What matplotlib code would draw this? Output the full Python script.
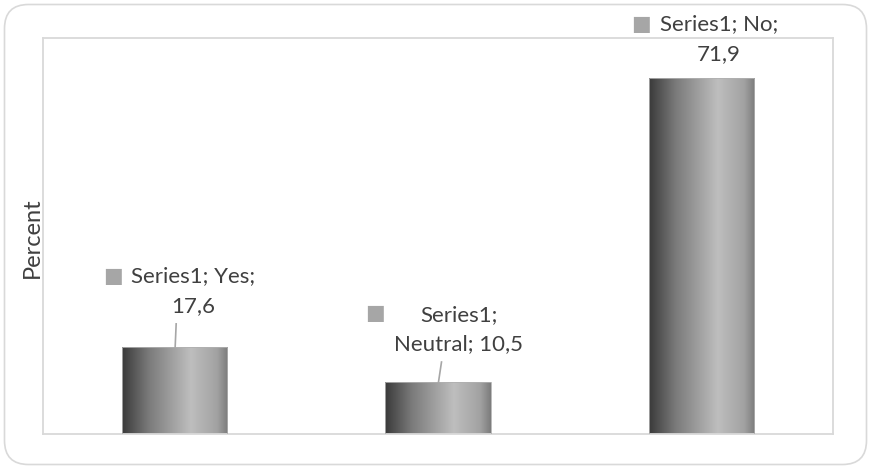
import numpy as np
import matplotlib.pyplot as plt
from matplotlib.patches import FancyBboxPatch, Rectangle
from matplotlib.colors import LinearSegmentedColormap

# Data
categories = ['Yes', 'Neutral', 'No']
values = [17.6, 10.5, 71.9]
series_name = 'Series1'
label_lines = [['Series1; Yes;', '17,6'], ['Series1;', 'Neutral; 10,5'], ['Series1; No;', '71,9']]

W, H = 870, 468
fig = plt.figure(figsize=(W / 100, H / 100), dpi=100)
plt.rcParams['font.family'] = ['Lato', 'DejaVu Sans']

# outer rounded frame, drawn in a background axes with pixel units
bg = fig.add_axes([0, 0, 1, 1], zorder=-5)
bg.set_xlim(0, W)
bg.set_ylim(0, H)
bg.axis('off')
bg.add_patch(FancyBboxPatch((4.5, 3.5), 862, 460, boxstyle='round,pad=0,rounding_size=24',
                            facecolor='white', edgecolor='#d9d9d9', lw=1.2))

ax = fig.add_axes([43 / W, (H - 434) / H, 790 / W, 396 / H])
ax.set_xticks([])
ax.set_yticks([])
for s in ax.spines.values():
    s.set_color('#d9d9d9')
    s.set_linewidth(1.3)
ax.set_facecolor('none')
tc = '#404040'
ax.set_ylabel('Percent', fontsize=17, color=tc)
ax.yaxis.set_label_coords(0.0, 0.495)

cmap = LinearSegmentedColormap.from_list('bar', [(0, '#3a3a3a'), (0.25, '#7a7a7a'),
                                                 (0.65, '#bebebe'), (0.9, '#a2a2a2'),
                                                 (1, '#7c7c7c')])
grad = np.linspace(0, 1, 256).reshape(1, -1)
bw = 0.4
bars = ax.bar(range(len(values)), values, width=bw, color='none', edgecolor='#b0b0b0', lw=0.6, zorder=3)
for b in bars:
    x0, y0, w, h = b.get_x(), b.get_y(), b.get_width(), b.get_height()
    im = ax.imshow(grad, cmap=cmap, aspect='auto', extent=[x0, x0 + w, y0, y0 + h], zorder=2)
    im.set_clip_path(Rectangle((x0, y0), w, h, transform=ax.transData))
ax.set_xlim(-0.5, 2.5)
ax.set_ylim(0, 80)

fs = 16
# label layout in pixels relative to bar top: text x, line1 y, line2 y, square x, square y
lab_off = [(18.5, 71, 41, -61.5, 71), (20.5, 67, 38, -62.5, 69), (17.5, 54, 24, -60.5, 54)]
for i, (v, lines) in enumerate(zip(values, label_lines)):
    tx, y1, y2, sx, sy = lab_off[i]
    ax.annotate(lines[0], (i, v), xytext=(tx, y1), textcoords='offset pixels',
                ha='center', va='center', fontsize=fs, color=tc, annotation_clip=False)
    ax.annotate(lines[1], (i, v), xytext=(tx, y2), textcoords='offset pixels',
                ha='center', va='center', fontsize=fs, color=tc, annotation_clip=False)
    ax.annotate('\u25A0', (i, v), xytext=(sx, sy), textcoords='offset pixels', ha='center', va='center',
                fontsize=15, color='#a6a6a6', family='DejaVu Sans', annotation_clip=False)

# leader lines (pixel offsets converted to data units)
xpp = 3 / 790
ypp = 80 / 396
leaders = [(0, 1.5, 23), (1, 3.5, 20)]
for i, dx, dy in leaders:
    ax.plot([i + 0.5 * xpp, i + dx * xpp], [values[i], values[i] + dy * ypp],
            color='#a6a6a6', lw=1.2, clip_on=False, zorder=4)

fig.savefig('out.png', dpi=100)
